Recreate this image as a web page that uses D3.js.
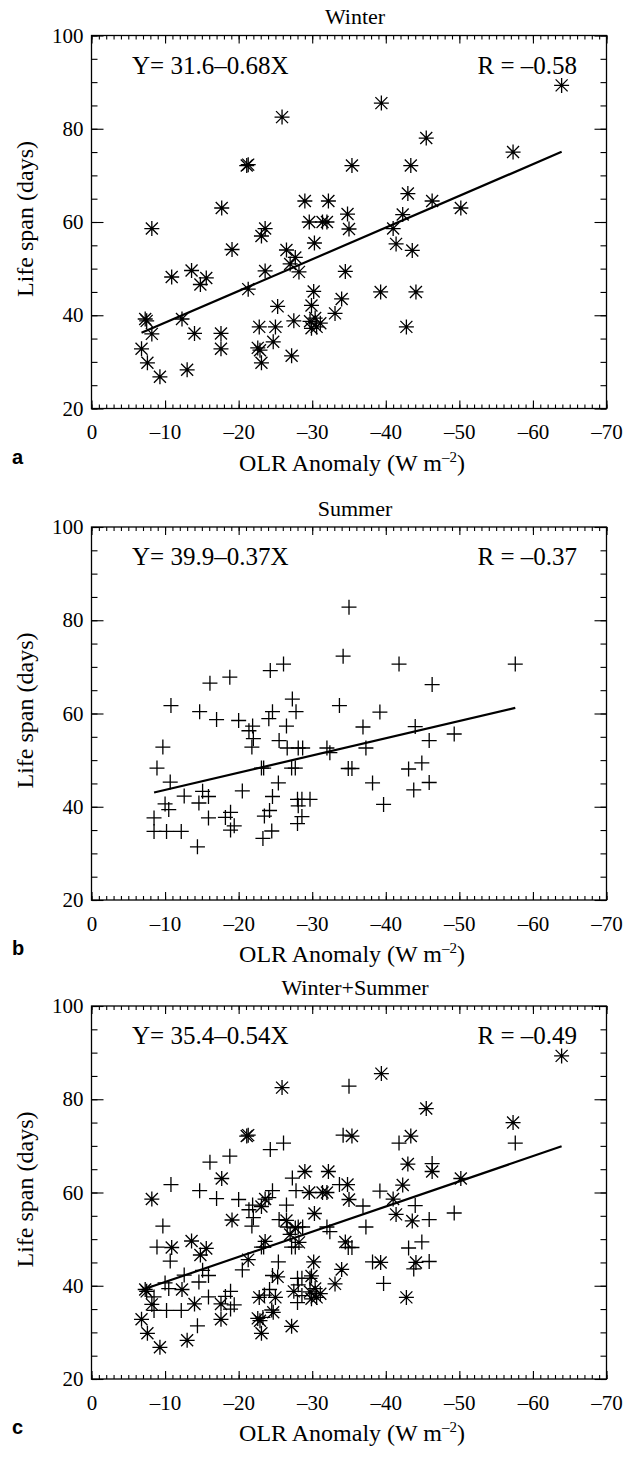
<!DOCTYPE html>
<html>
<head>
<meta charset="utf-8">
<script src="https://cdn.jsdelivr.net/npm/d3@7"></script>
<style>
  body { margin: 0; background: #fff; }
  svg text { font-family: "Liberation Serif", "Times New Roman", Times, serif; fill: #000; }
</style>
</head>
<body>
<svg id="fig" width="634" height="1457"></svg>
<script>
// Winter events: OLR anomaly (W m-2) and life span (days)
const winterOlr = [
  -63.9, -57.3, -50.2, -46.3, -45.5, -43.4, -43.0, -43.6, -42.3, -41.0,
  -41.4, -44.1, -42.8, -39.3, -39.4, -35.4, -34.8, -35.0, -34.5, -34.0,
  -33.1, -32.2, -31.4, -32.0, -29.6, -29.0, -30.3, -30.2, -29.9, -29.7,
  -30.4, -31.1, -30.6, -29.9, -28.2, -27.0, -27.7, -26.5, -27.5, -27.2,
  -25.9, -25.3, -25.0, -24.7, -23.6, -23.1, -23.6, -22.8, -22.6, -22.9,
  -23.1, -21.1, -21.3, -21.3, -19.1, -17.7, -17.6, -17.6, -15.6, -14.8,
  -13.6, -10.9, -14.0, -13.0, -12.3, -8.2, -8.2, -7.3, -7.5, -6.8,
  -7.6, -9.3
];
const winterLife = [
  89.3, 75.0, 63.0, 64.5, 78.0, 72.1, 66.1, 53.9, 61.6, 58.6,
  55.3, 45.0, 37.5, 45.0, 85.5, 72.1, 61.7, 58.5, 49.4, 43.5,
  40.4, 64.5, 60.0, 60.0, 60.0, 64.5, 55.5, 45.1, 42.1, 38.7,
  39.4, 38.3, 37.5, 37.2, 49.3, 51.0, 52.4, 54.0, 38.8, 31.3,
  82.5, 41.9, 37.5, 34.3, 58.6, 57.0, 49.5, 37.5, 33.0, 32.5,
  29.8, 72.1, 72.3, 45.6, 54.1, 63.0, 36.1, 32.8, 48.0, 46.6,
  49.6, 48.2, 36.1, 28.3, 39.2, 58.6, 36.0, 39.2, 38.8, 32.8,
  29.8, 26.8
];

// Summer events: OLR anomaly (W m-2) and life span (days)
const summerOlr = [
  -57.6, -49.3, -46.3, -45.9, -45.9, -44.9, -44.0, -43.1, -43.8, -41.8,
  -39.2, -39.7, -38.2, -37.3, -36.9, -35.0, -34.2, -33.7, -34.9, -35.4,
  -32.0, -32.4, -29.7, -28.6, -28.0, -28.1, -28.6, -28.0, -28.7, -28.1,
  -26.6, -27.2, -27.7, -27.8, -27.3, -26.1, -26.5, -25.5, -25.4, -24.3,
  -24.6, -24.1, -24.6, -23.1, -23.4, -23.5, -24.2, -23.3, -24.5, -21.9,
  -21.4, -22.0, -21.8, -20.5, -20.0, -18.8, -17.0, -16.1, -18.9, -18.2,
  -18.9, -19.4, -15.9, -15.9, -15.1, -14.6, -14.4, -14.7, -12.6, -12.2,
  -10.8, -10.7, -10.0, -10.5, -10.2, -9.7, -8.9, -8.5, -8.5
];
const summerLife = [
  70.6, 55.6, 66.2, 54.2, 45.2, 49.4, 57.2, 48.1, 43.6, 70.6,
  60.3, 40.5, 45.1, 52.6, 57.1, 82.8, 72.3, 61.7, 48.2, 48.2,
  52.6, 51.6, 41.6, 41.6, 41.6, 40.2, 37.9, 36.4, 52.6, 52.6,
  52.6, 48.3, 48.3, 60.4, 63.1, 70.6, 57.3, 54.2, 45.1, 69.2,
  60.4, 58.9, 42.2, 48.3, 48.3, 38.0, 39.2, 33.2, 34.8, 57.3,
  56.3, 54.6, 52.8, 43.4, 58.5, 67.8, 58.7, 66.5, 38.8, 37.7,
  35.0, 35.9, 37.6, 42.2, 43.3, 40.8, 31.4, 60.4, 42.3, 34.7,
  61.7, 45.3, 40.6, 39.4, 34.7, 52.8, 48.3, 37.6, 34.7
];

// Panel annotations and least-squares fits
const panelTitles = ["Winter", "Summer", "Winter+Summer"];
const panelLetters = ["a", "b", "c"];
const fitIntercepts = [31.6, 39.9, 35.4];
const fitSlopes = [-0.68, -0.37, -0.54];
const fitR = [-0.58, -0.37, -0.49];

// Axis ticks
const xTicks = [0, -10, -20, -30, -40, -50, -60, -70];
const yTicks = [20, 40, 60, 80, 100];
const xMinorTicks = d3.range(0, -71, -1);
const yMinorTicks = d3.range(20, 101, 5);

const svg = d3.select("#fig");
const left = 91.5, right = 606.5, plotH = 373;
const panelTops = [35.5, 527, 1006];
const dash = "\u2013";
const fmtR = v => (v < 0 ? dash : "") + Math.abs(v).toFixed(2);

const x = d3.scaleLinear().domain([0, -70]).range([left, right]);

const asterisk = (r, d) =>
  `M${-r},0H${r}M0,${-r}V${r}M${-d},${-d}L${d},${d}M${-d},${d}L${d},${-d}`;
const plus = r => `M${-r},0H${r}M0,${-r}V${r}`;

const panels = [
  { sets: [{ xs: winterOlr, ys: winterLife, sym: "ast" }] },
  { sets: [{ xs: summerOlr, ys: summerLife, sym: "plus" }] },
  { sets: [{ xs: winterOlr, ys: winterLife, sym: "ast" },
           { xs: summerOlr, ys: summerLife, sym: "plus" }] }
];

panels.forEach((p, i) => {
  const top = panelTops[i], bottom = top + plotH;
  const y = d3.scaleLinear().domain([20, 100]).range([bottom, top]);
  const g = svg.append("g");

  // frame
  g.append("rect")
    .attr("x", left).attr("y", top)
    .attr("width", right - left).attr("height", plotH)
    .attr("fill", "none").attr("stroke", "#000").attr("stroke-width", 1.3);

  const styleAxis = sel => {
    sel.select(".domain").remove();
    sel.selectAll("line").attr("stroke", "#000").attr("stroke-width", 1.1);
    sel.attr("font-family", null).attr("font-size", null);
    sel.selectAll("text").style("font-size", "21px");
  };

  // bottom axis
  g.append("g").attr("transform", `translate(0,${bottom})`)
    .call(d3.axisBottom(x).tickValues(xMinorTicks).tickSize(-4).tickFormat(""))
    .call(styleAxis);
  g.append("g").attr("transform", `translate(0,${bottom})`)
    .call(d3.axisBottom(x).tickValues(xTicks).tickSize(-8).tickPadding(16)
      .tickFormat(d => d === 0 ? "0" : dash + Math.abs(d)))
    .call(styleAxis);
  // top axis
  g.append("g").attr("transform", `translate(0,${top})`)
    .call(d3.axisTop(x).tickValues(xMinorTicks).tickSize(-4).tickFormat(""))
    .call(styleAxis);
  g.append("g").attr("transform", `translate(0,${top})`)
    .call(d3.axisTop(x).tickValues(xTicks).tickSize(-8).tickFormat(""))
    .call(styleAxis);
  // left axis
  g.append("g").attr("transform", `translate(${left},0)`)
    .call(d3.axisLeft(y).tickValues(yMinorTicks).tickSize(-6).tickFormat(""))
    .call(styleAxis);
  g.append("g").attr("transform", `translate(${left},0)`)
    .call(d3.axisLeft(y).tickValues(yTicks).tickSize(-12).tickPadding(8).tickFormat(d3.format("d")))
    .call(styleAxis);
  // right axis
  g.append("g").attr("transform", `translate(${right},0)`)
    .call(d3.axisRight(y).tickValues(yMinorTicks).tickSize(-6).tickFormat(""))
    .call(styleAxis);
  g.append("g").attr("transform", `translate(${right},0)`)
    .call(d3.axisRight(y).tickValues(yTicks).tickSize(-12).tickFormat(""))
    .call(styleAxis);

  // markers
  p.sets.forEach(s => {
    const pts = s.xs.map((v, k) => [v, s.ys[k]]);
    g.append("g").selectAll("path").data(pts).join("path")
      .attr("transform", d => `translate(${x(d[0])},${y(d[1])})`)
      .attr("d", s.sym === "ast" ? asterisk(7.5, 6) : plus(7.5))
      .attr("fill", "none").attr("stroke", "#000").attr("stroke-width", 1.3);
  });

  // regression line over the data range
  const allX = p.sets.flatMap(s => s.xs);
  const [xmin, xmax] = d3.extent(allX);
  const a = fitIntercepts[i], b = fitSlopes[i];
  g.append("path")
    .datum([xmax, xmin])
    .attr("d", d3.line().x(d => x(d)).y(d => y(a + b * d)))
    .attr("fill", "none").attr("stroke", "#000").attr("stroke-width", 2.2);

  // equation and correlation
  g.append("text").attr("x", 132).attr("y", top + 38)
    .style("font-size", "25px")
    .text(`Y= ${a.toFixed(1)}${dash}${Math.abs(b).toFixed(2)}X`);
  g.append("text").attr("x", 577).attr("y", top + 38)
    .attr("text-anchor", "end").style("font-size", "25px")
    .text(`R = ${fmtR(fitR[i])}`);

  // panel title
  g.append("text").attr("x", 355).attr("y", top - 11.5)
    .attr("text-anchor", "middle").style("font-size", "22px")
    .text(panelTitles[i]);

  // y axis title
  g.append("text")
    .attr("transform", `translate(33,${(top + bottom) / 2 - 3}) rotate(-90)`)
    .attr("text-anchor", "middle").style("font-size", "24px")
    .text("Life span (days)");

  // x axis title
  const xt = g.append("text").attr("x", 352).attr("y", bottom + 62)
    .attr("text-anchor", "middle").style("font-size", "24px");
  xt.append("tspan").text("OLR Anomaly (W m");
  xt.append("tspan").attr("dy", -9).style("font-size", "15px").text(dash + "2");
  xt.append("tspan").attr("dy", 9).text(")");

  // panel letter
  g.append("text").attr("x", 12).attr("y", bottom + 55)
    .style("font-family", "'Liberation Sans', Arial, sans-serif")
    .style("font-weight", "bold").style("font-size", "20px")
    .text(panelLetters[i]);
});
</script>
</body>
</html>
